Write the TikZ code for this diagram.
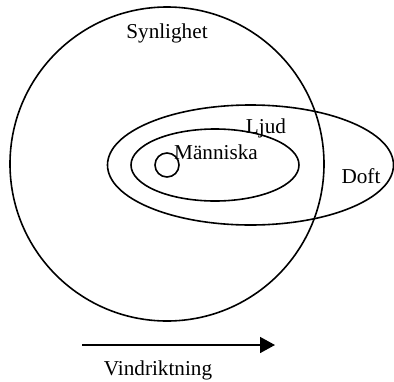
\documentclass[tikz,border=0pt]{standalone}
\usepackage{fontspec}
\setmainfont{Liberation Serif}
\usetikzlibrary{arrows.meta}
\tikzset{ring/.style={draw=black,line width=1.6pt,fill=none},lab/.style={inner sep=0pt,font=\fontsize{21.2}{24}\selectfont,anchor=base}}
\begin{document}
\begin{tikzpicture}[x=1pt,y=-1pt]
\useasboundingbox (0,0) rectangle (394,381);
\draw[ring] (167,164) circle[radius=157];
\draw[ring] (250.5,165) ellipse[x radius=143,y radius=60];
\draw[ring] (215,165) ellipse[x radius=84,y radius=36];
\draw[ring] (167,165) circle[radius=12];
\node[lab] (syn) at (167,38) {Synlighet};
\node[lab] (lju) at (266,133) {Ljud};
\node[lab] (man) at (216,159) {Människa};
\node[lab] (dof) at (361,183) {Doft};
\node[lab] (vin) at (158,375) {Vindriktning};
\coordinate (wa) at (82,345);
\coordinate (wb) at (275,345);
\draw[line width=1.6pt,-{Triangle[length=15pt,width=16pt]}] (wa) -- (wb);
\end{tikzpicture}
\end{document}
